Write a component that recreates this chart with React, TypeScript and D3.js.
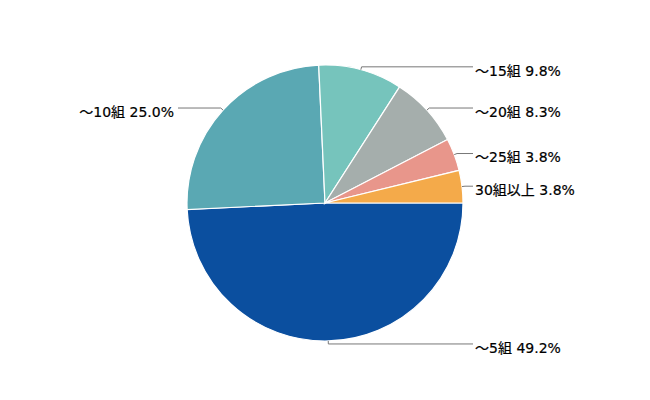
import React from "react";
import * as d3 from "d3";

const categories = ["～5組", "～10組", "～15組", "～20組", "～25組", "30組以上"];
const values = [49.2, 25.0, 9.8, 8.3, 3.8, 3.8];
const labels = ["49.2%", "25.0%", "9.8%", "8.3%", "3.8%", "3.8%"];
const colors = ["#0b4f9f", "#5aa8b3", "#76c4bc", "#a5aeac", "#e8968b", "#f4aa4a"];

export default function App() {
  const width = 650;
  const height = 400;
  const cx = 325;
  const cy = 203;
  const r = 138;

  const data = categories.map((c, i) => ({ c, v: values[i], l: labels[i], col: colors[i] }));
  const pie = d3
    .pie<any>()
    .value((d) => d.v)
    .sort(null)
    .startAngle(Math.PI / 2)
    .endAngle(Math.PI / 2 + 2 * Math.PI);
  const arcs = pie(data);
  const arc = d3.arc<any>().innerRadius(0).outerRadius(r);

  return (
    <svg width={width} height={height} style={{ position: "absolute", left: 0, top: 0, background: "#fff" }}>
      <g transform={`translate(${cx},${cy})`}>
        {arcs.map((a, i) => (
          <path key={i} d={arc(a) as string} fill={a.data.col} stroke="#fff" strokeWidth={1.2} />
        ))}
      </g>
      {arcs.map((a, i) => {
        const mid = (a.startAngle + a.endAngle) / 2;
        const sx = cx + Math.sin(mid) * r;
        const sy = cy - Math.cos(mid) * r;
        const ex = cx + Math.sin(mid) * (r + 3);
        const ey = cy - Math.cos(mid) * (r + 3);
        const right = Math.sin(mid) >= -0.05;
        const lx = right ? 473 : 178;
        const tx = right ? 475 : 174;
        return (
          <g key={"l" + i}>
            <polyline
              points={`${sx},${sy} ${ex},${ey} ${lx},${ey}`}
              fill="none"
              stroke="#777"
              strokeWidth={1}
            />
            <text
              x={tx}
              y={ey + 4}
              dy="0.35em"
              textAnchor={right ? "start" : "end"}
              fontFamily="'DejaVu Sans', 'Noto Sans CJK JP', sans-serif"
              fontSize={14}
              fill="#000"
              stroke="#000"
              strokeWidth={0.2}
            >
              {a.data.c} {a.data.l}
            </text>
          </g>
        );
      })}
    </svg>
  );
}
